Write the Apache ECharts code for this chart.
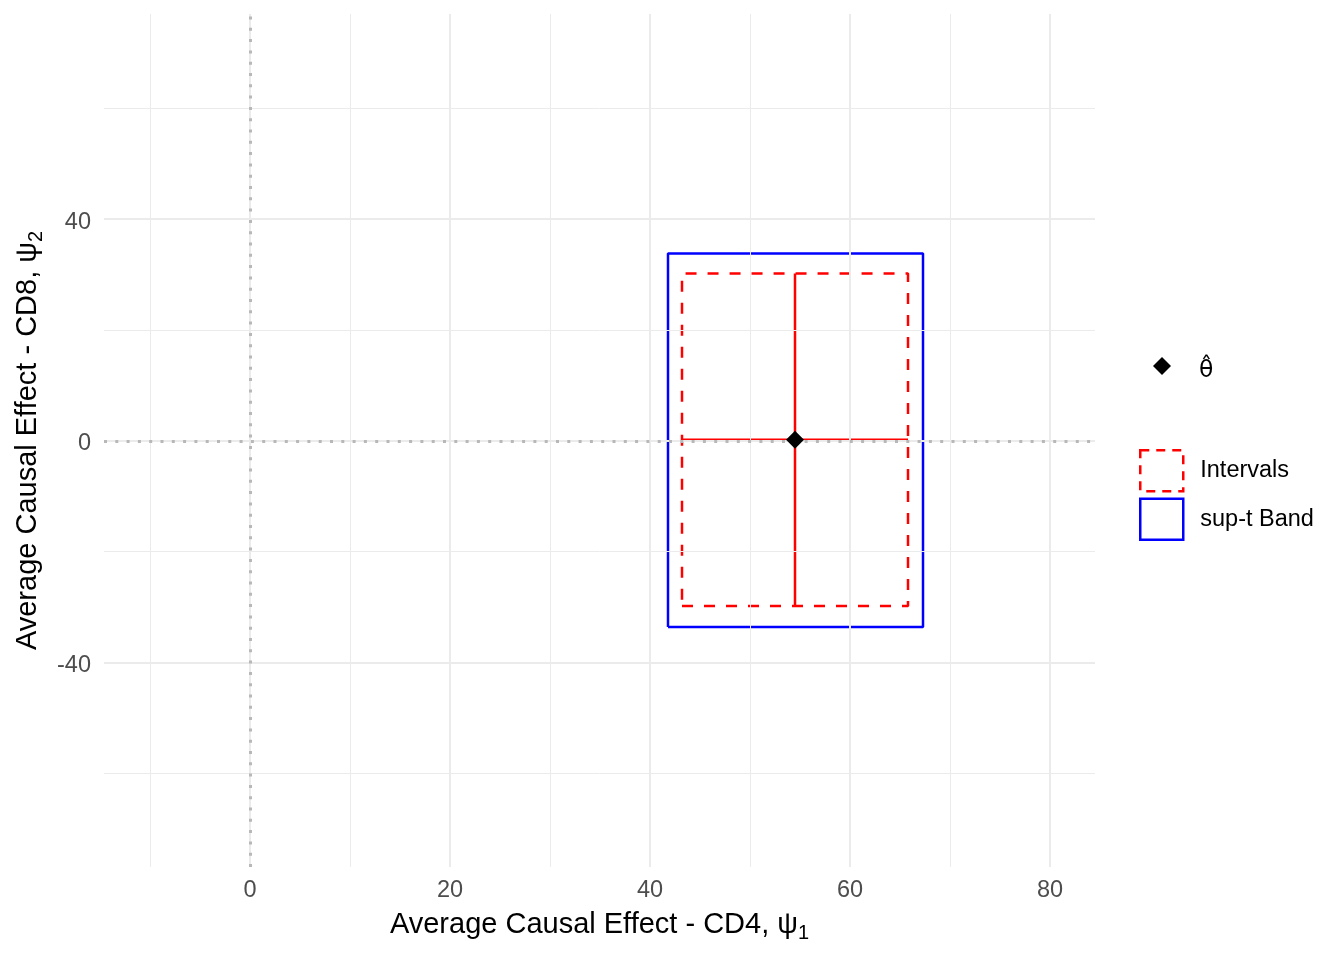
<!DOCTYPE html>
<html>
<head>
<meta charset="utf-8">
<script src="https://cdn.jsdelivr.net/npm/echarts@6/dist/echarts.min.js"></script>
<style>
  html, body { margin: 0; padding: 0; background: #fff; }
  #chart { width: 1344px; height: 960px; }
</style>
</head>
<body>
<div id="chart"></div>
<script>
// axis limits and grid lines
var xRange = [-14.6, 84.5];
var yRange = [-76.9, 77.0];
var xTicks = [0, 20, 40, 60, 80];
var xMinor = [-10, 10, 30, 50, 70];
var yTicks = [-40, 0, 40];
var yMinor = [-60, -20, 20, 60];

// estimate and its regions
var estimate = [54.5, 0.2];
var intervalX = [43.2, 65.8];
var intervalY = [-29.8, 30.2];
var bandX = [41.8, 67.3];
var bandY = [-33.6, 33.8];

function boxPath(xs, ys) {
    return [[xs[0], ys[0]], [xs[1], ys[0]], [xs[1], ys[1]], [xs[0], ys[1]], [xs[0], ys[0]]];
}

var myChart = echarts.init(document.getElementById('chart'));

var gridLines = [];
xTicks.forEach(function (v) { gridLines.push({ xAxis: v, lineStyle: { width: 2 } }); });
yTicks.forEach(function (v) { gridLines.push({ yAxis: v, lineStyle: { width: 2 } }); });
xMinor.forEach(function (v) { gridLines.push({ xAxis: v, lineStyle: { width: 1 } }); });
yMinor.forEach(function (v) { gridLines.push({ yAxis: v, lineStyle: { width: 1 } }); });

var titleRich = {
    m: { fontSize: 29, color: '#000', lineHeight: 36, fontFamily: 'Liberation Sans' },
    s: { fontSize: 20, color: '#000', verticalAlign: 'bottom', fontFamily: 'Liberation Sans' }
};

var option = {
    animation: false,
    backgroundColor: '#ffffff',
    textStyle: { fontFamily: 'Liberation Sans' },
    grid: { left: 104, right: 249, top: 14, bottom: 93 },
    legend: [
        {
            data: [{ name: 'θ̂', icon: 'diamond' }],
            left: 1153, top: 357, padding: 0,
            itemWidth: 18, itemHeight: 18,
            selectedMode: false,
            formatter: '{t|{name}}',
            textStyle: {
                fontSize: 23.5, color: '#000', padding: [0, 0, 0, 23],
                rich: { t: { fontSize: 23.5, color: '#000', fontFamily: 'DejaVu Sans', padding: [10, 0, 0, 0] } }
            }
        },
        {
            data: [
                { name: 'Intervals', icon: 'rect',
                  itemStyle: { color: 'rgba(0,0,0,0)', borderColor: '#ff0000', borderWidth: 2.5, borderType: [9, 7] } },
                { name: 'sup-t Band', icon: 'rect',
                  itemStyle: { color: 'rgba(0,0,0,0)', borderColor: '#0000ff', borderWidth: 2.5 } }
            ],
            orient: 'vertical',
            left: 1139, top: 449, padding: 0,
            itemWidth: 43, itemHeight: 41, itemGap: 5,
            selectedMode: false,
            textStyle: { fontSize: 23.5, color: '#000', padding: [4, 0, 0, 12] }
        }
    ],
    xAxis: {
        type: 'value',
        min: xRange[0], max: xRange[1],
        name: '{m|Average Causal Effect - CD4, ψ}{s|1}',
        nameLocation: 'middle',
        nameGap: 40,
        nameTextStyle: { rich: titleRich },
        axisLine: { show: false },
        axisTick: { show: false, customValues: xTicks },
        axisLabel: { customValues: xTicks, fontSize: 23.5, color: '#4d4d4d', margin: 12 },
        splitLine: { show: false }
    },
    yAxis: {
        type: 'value',
        min: yRange[0], max: yRange[1],
        name: '{m|Average Causal Effect - CD8, ψ}{s|2}',
        nameLocation: 'middle',
        nameRotate: 90,
        nameGap: 58,
        nameTextStyle: { rich: titleRich },
        axisLine: { show: false },
        axisTick: { show: false, customValues: yTicks },
        axisLabel: {
            customValues: yTicks, margin: 13,
            formatter: '{v|{value}}',
            rich: { v: { fontSize: 23.5, color: '#4d4d4d', fontFamily: 'Liberation Sans', padding: [6, 0, 0, 0] } }
        },
        splitLine: { show: false }
    },
    series: [
        {
            name: 'grid',
            type: 'line',
            data: [],
            silent: true,
            markLine: {
                silent: true,
                symbol: 'none',
                label: { show: false },
                lineStyle: { color: '#ebebeb', type: 'solid' },
                data: gridLines
            }
        },
        {
            name: 'zero',
            type: 'line',
            data: [],
            silent: true,
            markLine: {
                silent: true,
                symbol: 'none',
                label: { show: false },
                lineStyle: { color: '#b8b8b8', type: [3, 8.3], width: 3 },
                data: [{ xAxis: 0 }, { yAxis: 0 }]
            }
        },
        {
            name: 'sup-t Band',
            type: 'line',
            data: boxPath(bandX, bandY),
            showSymbol: false,
            color: '#0000ff',
            lineStyle: { color: '#0000ff', width: 2.5 }
        },
        {
            name: 'Intervals',
            type: 'line',
            data: boxPath(intervalX, intervalY),
            showSymbol: false,
            color: '#ff0000',
            lineStyle: { color: '#ff0000', width: 2.5, type: [11, 11] }
        },
        {
            name: 'intervalH',
            type: 'line',
            data: [[intervalX[0], estimate[1]], [intervalX[1], estimate[1]]],
            showSymbol: false,
            lineStyle: { color: '#ff0000', width: 2.5 }
        },
        {
            name: 'intervalV',
            type: 'line',
            data: [[estimate[0], intervalY[0]], [estimate[0], intervalY[1]]],
            showSymbol: false,
            lineStyle: { color: '#ff0000', width: 2.5 }
        },
        {
            name: 'θ̂',
            type: 'scatter',
            data: [estimate],
            symbol: 'diamond',
            symbolSize: 18,
            itemStyle: { color: '#000000', opacity: 1 },
            z: 5
        }
    ]
};

myChart.setOption(option);
</script>
</body>
</html>
